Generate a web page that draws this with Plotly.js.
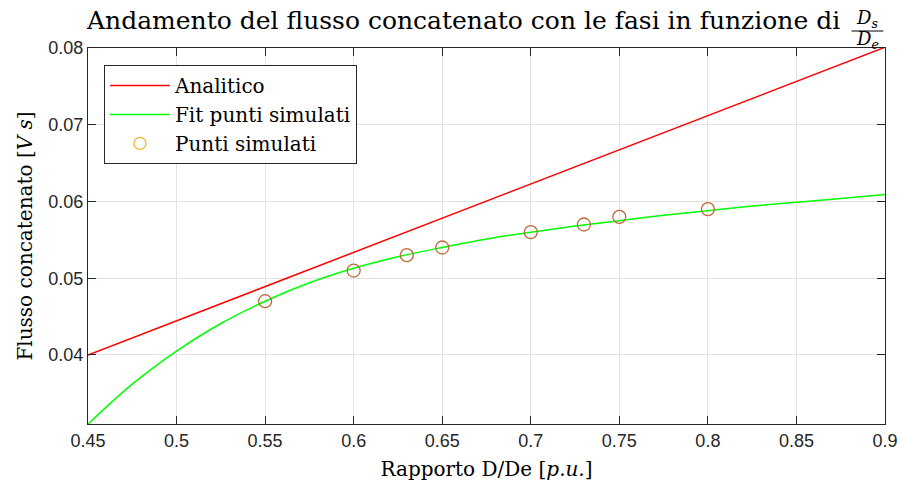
<!DOCTYPE html>
<html>
<head>
<meta charset="utf-8">
<script src="https://cdn.plot.ly/plotly-3.0.1.min.js"></script>
<style>
  html, body { margin: 0; padding: 0; background: #fff; }
  #chart { width: 901px; height: 488px; }
</style>
</head>
<body>
<div id="chart"></div>
<script>
// Analytic flux linkage (straight line across the D/De range)
const analyticX = [0.45, 0.55, 0.65, 0.75, 0.9];
const analyticY = [0.0400, 0.0489, 0.0578, 0.0667, 0.0801];

// Fitted curve through the simulated points
const fitX = [0.45, 0.475, 0.5, 0.525, 0.55, 0.575, 0.6, 0.625, 0.65, 0.675, 0.7,
              0.725, 0.75, 0.775, 0.8, 0.825, 0.85, 0.875, 0.9];
const fitY = [0.0310, 0.0362, 0.0405, 0.0441, 0.0470, 0.0494, 0.0513, 0.0528, 0.0540,
              0.0551, 0.0560, 0.0568, 0.0575, 0.0582, 0.0588, 0.0594, 0.0599, 0.0604, 0.0609];

// Simulated points
const simX = [0.55, 0.6, 0.63, 0.65, 0.7, 0.73, 0.75, 0.8];
const simY = [0.047, 0.051, 0.053, 0.054, 0.056, 0.057, 0.058, 0.059];

// Axis ticks
const xTicks = [0.45, 0.5, 0.55, 0.6, 0.65, 0.7, 0.75, 0.8, 0.85, 0.9];
const xTickText = ['0.45', '0.5', '0.55', '0.6', '0.65', '0.7', '0.75', '0.8', '0.85', '0.9'];
const yTicks = [0.04, 0.05, 0.06, 0.07, 0.08];
const yTickText = ['0.04', '0.05', '0.06', '0.07', '0.08'];

const serif = 'DejaVu Serif, Liberation Serif, serif';
const sans = 'Liberation Sans, Arial, sans-serif';
const axisCol = '#262626';

const traces = [
  { x: analyticX, y: analyticY, mode: 'lines', name: 'Analitico',
    line: { color: '#ff0000', width: 1.5 } },
  { x: fitX, y: fitY, mode: 'lines', name: 'Fit punti simulati',
    line: { color: '#00ff00', width: 1.5, shape: 'spline', smoothing: 1 } },
  { x: simX, y: simY, mode: 'markers', name: 'Punti simulati', showlegend: false,
    marker: { symbol: 'circle-open', size: 13, color: 'rgb(190,105,60)', line: { width: 1.3 } } },
  // legend swatch for the simulated points
  { x: [null], y: [null], mode: 'markers', name: 'Punti simulati',
    marker: { symbol: 'circle-open', size: 12, color: '#EDB120', line: { width: 1.2 } } }
];

const axisCommon = {
  showline: true, linecolor: axisCol, linewidth: 1, mirror: 'ticks',
  ticks: 'inside', ticklen: 8, tickcolor: axisCol, tickwidth: 1,
  showgrid: true, gridcolor: '#e3e3e3', gridwidth: 1, zeroline: false,
  tickfont: { family: sans, size: 18, color: axisCol }
};

const layout = {
  width: 901, height: 488,
  margin: { l: 88, r: 16, t: 48, b: 64 },
  paper_bgcolor: '#ffffff', plot_bgcolor: '#ffffff',
  showlegend: true,
  legend: {
    x: 0.02, y: 0.955, xanchor: 'left', yanchor: 'top',
    bgcolor: '#ffffff', bordercolor: axisCol, borderwidth: 1,
    font: { family: serif, size: 20, color: '#000' },
    tracegroupgap: 0, itemwidth: 60
  },
  xaxis: Object.assign({}, axisCommon, {
    range: [0.45, 0.9], tickvals: xTicks, ticktext: xTickText,
    title: { text: 'Rapporto D/De [<i>p.u.</i>]', font: { family: serif, size: 20, color: '#000' }, standoff: 12 }
  }),
  yaxis: Object.assign({}, axisCommon, {
    range: [0.031, 0.08], tickvals: yTicks, ticktext: yTickText,
    title: { text: 'Flusso concatenato [<i>V s</i>]', font: { family: serif, size: 20, color: '#000' }, standoff: 10 }
  }),
  annotations: [
    { text: 'Andamento del flusso concatenato con le fasi in funzione di',
      xref: 'paper', yref: 'paper', x: 0.47, y: 1.0, yshift: 28,
      xanchor: 'center', yanchor: 'middle', showarrow: false,
      font: { family: serif, size: 25, color: '#000' } },
    { text: '<i>D</i><sub><i>s</i></sub>', xref: 'paper', yref: 'paper',
      x: 0.978, y: 1.0, yshift: 29, xanchor: 'center', yanchor: 'middle', showarrow: false,
      font: { family: serif, size: 18, color: '#000' } },
    { text: '<i>D</i><sub><i>e</i></sub>', xref: 'paper', yref: 'paper',
      x: 0.978, y: 1.0, yshift: 8, xanchor: 'center', yanchor: 'middle', showarrow: false,
      font: { family: serif, size: 18, color: '#000' } }
  ],
  shapes: [
    { type: 'line', xref: 'paper', yref: 'paper', x0: 0.958, x1: 0.998,
      ysizemode: 'pixel', yanchor: 1.0, y0: 17, y1: 17, line: { color: '#000', width: 1 } }
  ]
};

Plotly.newPlot('chart', traces, layout, { displayModeBar: false, staticPlot: true });
</script>
</body>
</html>
